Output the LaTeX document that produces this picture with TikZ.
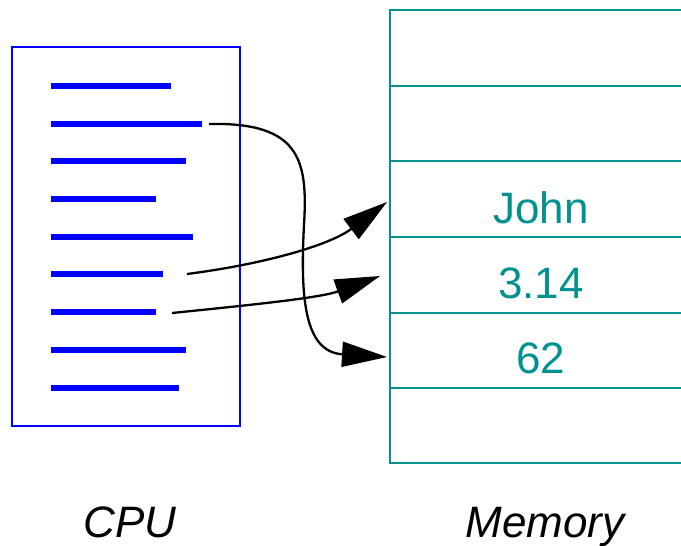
\documentclass[tikz,border=0pt]{standalone}
\usepackage{fontspec}
\setmainfont{Liberation Sans}
\usetikzlibrary{arrows.meta}
\definecolor{memteal}{RGB}{0,145,145}
\definecolor{cpublue}{RGB}{0,0,255}
\begin{document}
\begin{tikzpicture}[x=1pt,y=-1pt,
  bar/.style={cpublue,line width=6pt},
  memline/.style={memteal,line width=2.5pt},
  val/.style={memteal,font=\fontsize{44}{50}\selectfont,anchor=base},
  caption/.style={font=\fontsize{44}{50}\selectfont\itshape,anchor=base},
  conn/.style={black,line width=2.3pt,-{Triangle[length=45pt,width=25pt]}}]
\useasboundingbox (0,0) rectangle (681,546);
% CPU box
\draw[cpublue,line width=2pt] (12,47) rectangle (240,426);
\foreach \y/\e [count=\i] in {86/171,124/202,161/186,199/156,237/193,274/163,312/156,350/186,388/179}{
  \draw[bar] (51,\y) -- (\e,\y) coordinate (b\i);
}
% Memory
\draw[memline] (390,10) -- (390,463);
\foreach \y in {10,86,161,237,313,388,463}{
  \draw[memline] (389,\y) -- (690,\y);
}
\node[val] (john) at (541,223) {John};
\node[val] (pi) at (541,298) {3.14};
\node[val] (sixtytwo) at (541,373) {62};
% connector endpoints
\coordinate (s1) at (209,124);
\coordinate (s2) at (187,274);
\coordinate (s3) at (172,313);
\coordinate (t1) at (387,357);
\coordinate (t2) at (387,202);
\coordinate (t3) at (380,276);
\draw[conn] (s1) .. controls (300,122) and (308,160) .. (304,225) .. controls (300,300) and (305,352) .. (t1);
\draw[conn] (s2) .. controls (265,264) and (330,245) .. (t2);
\draw[conn] (s3) .. controls (250,305) and (320,298) .. (t3);
% captions
\node[caption] (cpu) at (130,537) {CPU};
\node[caption] (mem) at (545,537) {Memory};
\end{tikzpicture}
\end{document}
